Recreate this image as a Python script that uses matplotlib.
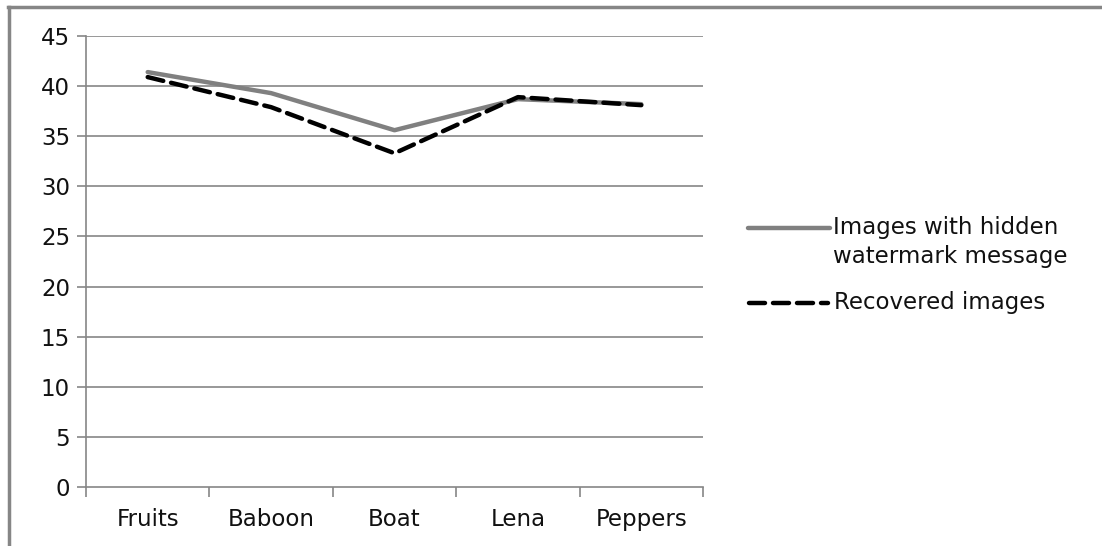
import matplotlib
matplotlib.use("Agg")
import matplotlib.pyplot as plt
from matplotlib.lines import Line2D

categories = ["Fruits", "Baboon", "Boat", "Lena", "Peppers"]
watermarked = [41.4, 39.3, 35.6, 38.7, 38.2]
recovered = [40.9, 37.9, 33.3, 38.9, 38.1]
yticks = [0, 5, 10, 15, 20, 25, 30, 35, 40, 45]
label_wm = ["Images with hidden", "watermark message"]
label_rec = "Recovered images"

W, H = 1102, 546
plt.rcParams['font.family'] = ['DejaVu Sans']
fig = plt.figure(figsize=(W / 100, H / 100), dpi=100)
FS = 16.5

# axes: x 86..703, y 36..487 (pixels)
ax = fig.add_axes([86 / W, 1 - 487 / H, (703 - 86) / W, (487 - 36) / H])
x = list(range(len(categories)))
ax.plot(x, watermarked, color="#808080", lw=3.2, solid_capstyle="round", zorder=3)
ax.plot(x, recovered, color="black", lw=3.2, dashes=(3.6, 1.8), dash_capstyle="round", zorder=4)

ax.set_xlim(-0.5, len(categories) - 0.5)
ax.set_ylim(0, 45)
ax.set_yticks(yticks)
ax.set_xticks(x)
ax.set_xticklabels(categories)
ax.set_xticks([i - 0.5 for i in range(len(categories) + 1)], minor=True)
for yv in yticks[1:]:
    ax.axhline(yv, color="#868686", lw=1.2, zorder=1)
for s in ["top", "right"]:
    ax.spines[s].set_visible(False)
for s in ["left", "bottom"]:
    ax.spines[s].set_color("#868686")
    ax.spines[s].set_linewidth(1.2)
ax.tick_params(axis="y", which="major", length=6.5, width=1.2, color="#868686",
               labelsize=FS, pad=5, labelcolor="#111111")
ax.tick_params(axis="x", which="major", length=0, labelsize=FS, pad=15, labelcolor="#111111")
ax.tick_params(axis="x", which="minor", length=7, width=1.2, color="#868686")

# legend drawn in figure coordinates
def fx(px):
    return px / W
def fy(py):
    return 1 - py / H
fig.add_artist(Line2D([fx(748), fx(830)], [fy(228), fy(228)], color="#808080", lw=3.2,
                      solid_capstyle="round"))
fig.add_artist(Line2D([fx(749), fx(828)], [fy(303), fy(303)], color="black", lw=3.2,
                      dashes=(3.6, 1.8), dash_capstyle="round"))
fig.text(fx(833), fy(227), label_wm[0], fontsize=FS, va="center", ha="left", color="#111111")
fig.text(fx(833), fy(256), label_wm[1], fontsize=FS, va="center", ha="left", color="#111111")
fig.text(fx(834), fy(303), label_rec, fontsize=FS, va="center", ha="left", color="#111111")

# outer border (top & left)
fig.add_artist(Line2D([fx(9), fx(9)], [fy(7), 0], color="#868686", lw=2.5))
fig.add_artist(Line2D([fx(8), 1], [fy(7), fy(7)], color="#868686", lw=2.5))

fig.savefig("out.png", dpi=100)
